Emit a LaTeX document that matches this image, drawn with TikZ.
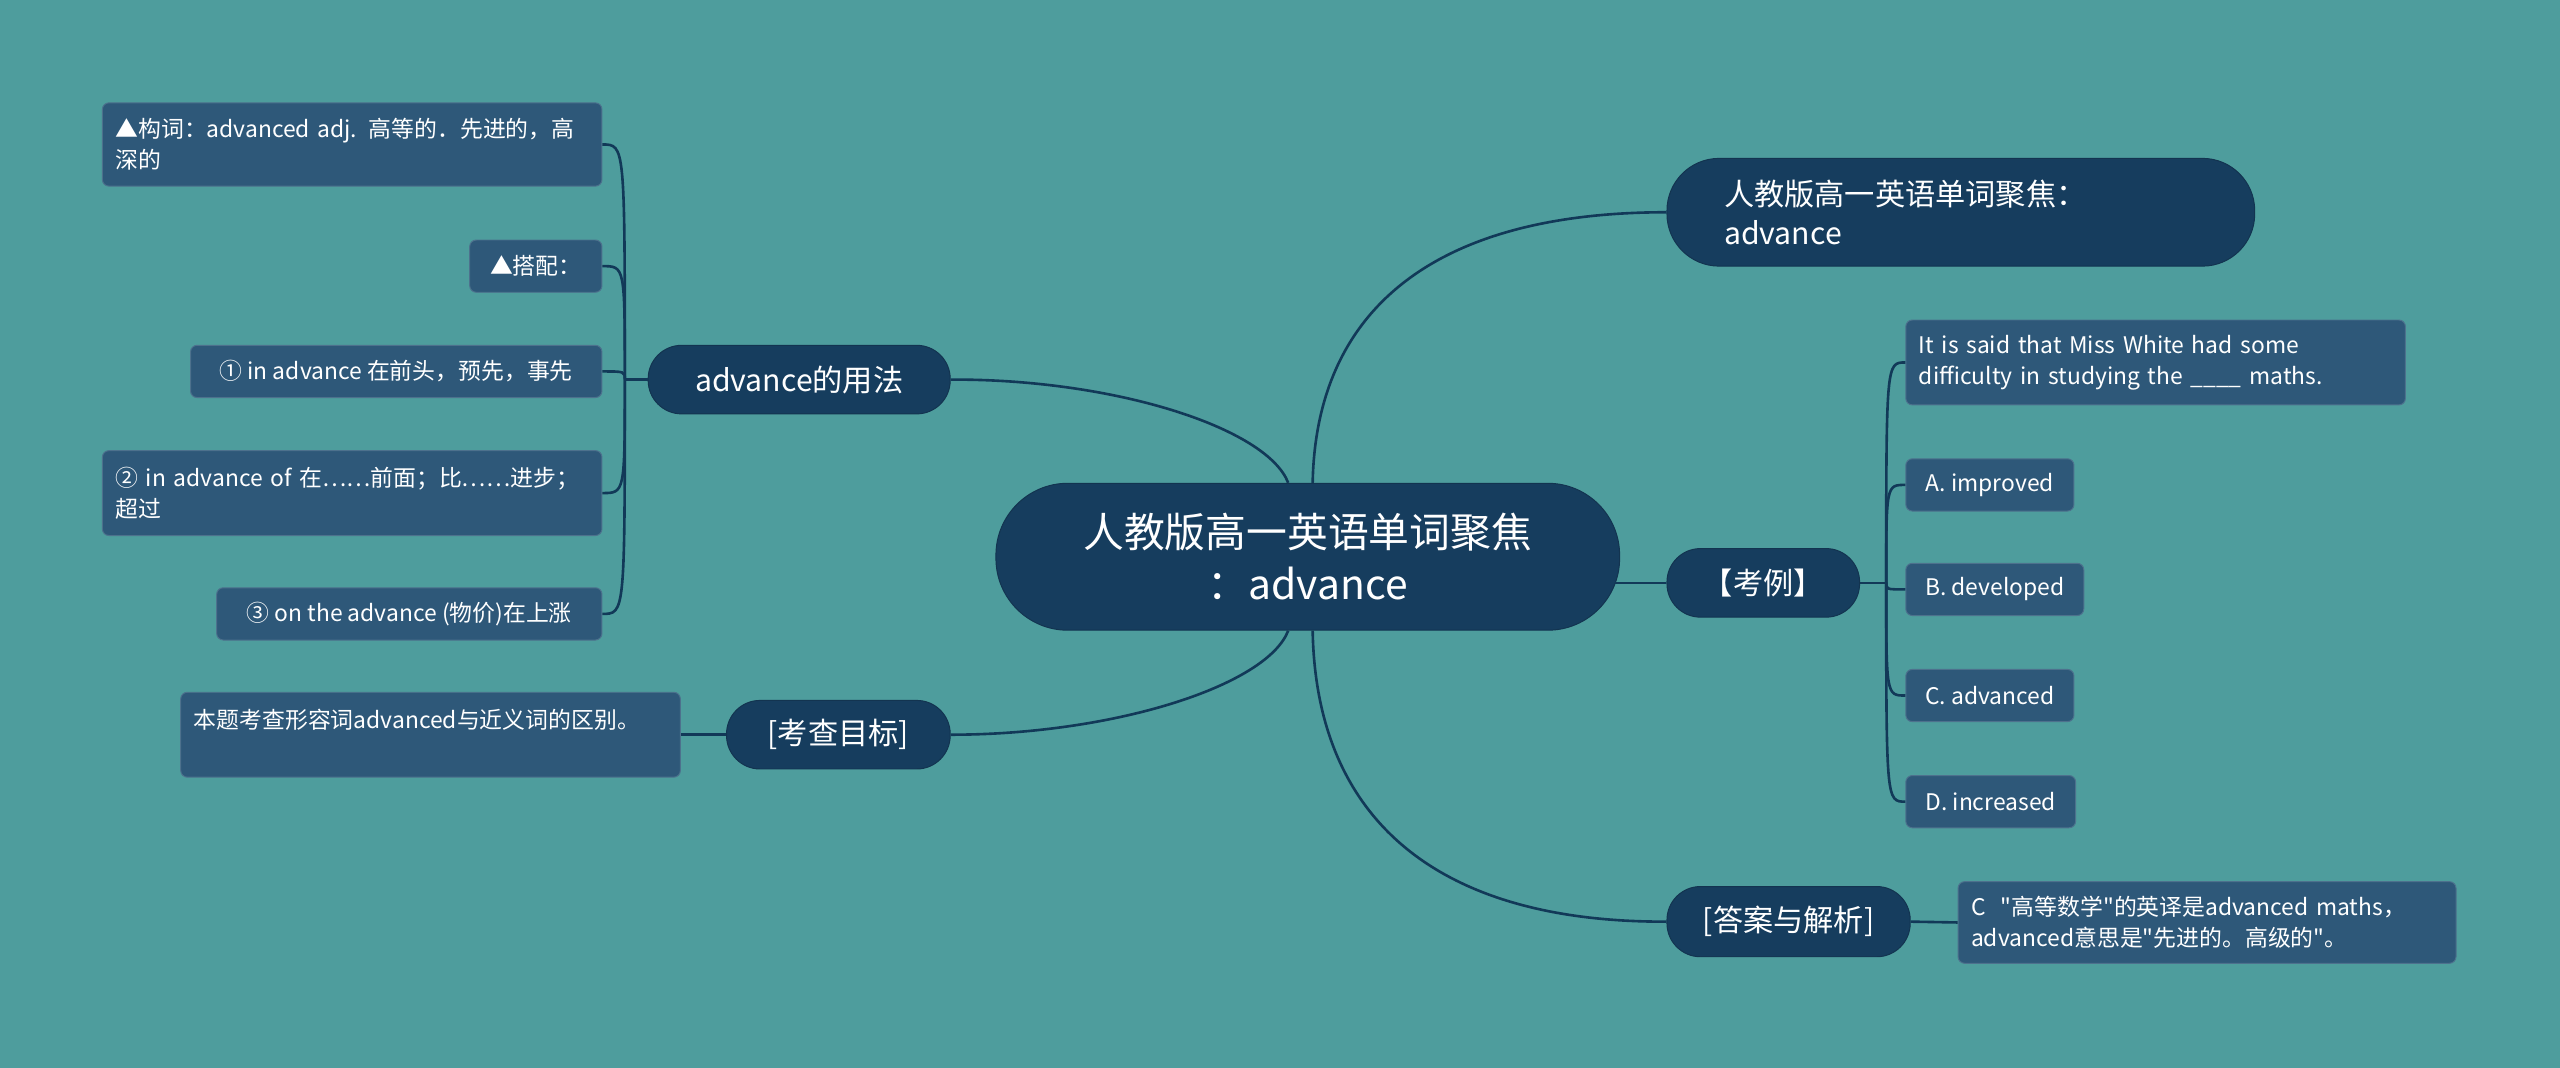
\documentclass[tikz,border=0pt]{standalone}
\usepackage{fontspec}
\setmainfont{Noto Sans CJK SC}[Ligatures=TeXOff]
\usetikzlibrary{positioning}

\definecolor{bgteal}{RGB}{78,157,157}
\definecolor{topicblue}{RGB}{22,61,94}
\definecolor{leafblue}{RGB}{46,88,121}
\definecolor{linkblue}{RGB}{18,57,88}

\tikzset{
  root/.style={fill=topicblue, draw=topicblue!85!black, line width=0.6pt, rounded corners=44pt, minimum width=382pt, minimum height=90pt, inner sep=0pt, text=white, align=center, font=\fontsize{25}{32}\selectfont},
  topic/.style={fill=topicblue, draw=topicblue!85!black, line width=0.6pt, rounded corners=20.5pt, minimum height=42pt, inner sep=0pt, text=white, font=\fontsize{18.5}{24}\selectfont},
  leaf/.style={fill=leafblue, draw=leafblue!85!white, line width=0.6pt, rounded corners=4pt, minimum height=32pt, inner xsep=8pt, inner ysep=0pt, text=white, align=left, font=\fontsize{14}{19}\selectfont},
  link/.style={draw=linkblue, line width=1.6pt},
}

\begin{document}
\begin{tikzpicture}[x=1pt,y=1pt,yscale=-1,xscale=1]
\useasboundingbox (0,0) rectangle (1568,654);
\fill [bgteal] (0,0) rectangle (1568,654);

% Root
\node [root] (root) at (801,341) {人教版高一英语单词聚焦\\：advance};

% Topics
\node [topic, minimum width=360pt, minimum height=66pt, rounded corners=32pt, inner xsep=35pt, text width=290pt, align=left] (title) at (1201,130) {人教版高一英语单词聚焦：\\advance};
\node [topic, minimum width=185pt] (usage) at (489.5,232.5) {advance的用法};
\node [topic, minimum width=137pt] (mubiao) at (513.5,450) {[考查目标]};
\node [topic, minimum width=118pt] (kaoli) at (1080,357) {【考例】};
\node [topic, minimum width=149pt, minimum height=43pt] (daan) at (1095.5,564.5) {[答案与解析]};

% Leaves of advance的用法
\node [leaf, anchor=east, text width=290pt, minimum height=51pt] (l1) at (369,88.5) {▲构词：advanced adj. 高等的．先进的，高\\深的};
\node [leaf, anchor=east, minimum width=81pt] (l2) at (369,163) {▲搭配：};
\node [leaf, anchor=east, minimum width=252pt] (l3) at (369,227.5) {① in advance 在前头，预先，事先};
\node [leaf, anchor=east, text width=290pt, minimum height=52pt] (l4) at (369,302) {② in advance of 在……前面；比……进步；\\超过};
\node [leaf, anchor=east, minimum width=236pt] (l5) at (369,376) {③ on the advance (物价)在上涨};

% Leaf of [考查目标]
\node [leaf, anchor=east, text width=290pt, minimum height=52pt] (l6) at (417,450) {本题考查形容词advanced与近义词的区别。\\\mbox{}};

% Leaves of 【考例】
\node [leaf, anchor=west, text width=290pt, minimum height=52pt] (r1) at (1167,222) {It is said that Miss White had some\\difficulty in studying the \_\_\_\_ maths.};
\node [leaf, anchor=west, minimum width=103pt] (r2) at (1167,297) {A. improved};
\node [leaf, anchor=west, minimum width=109pt] (r3) at (1167,361) {B. developed};
\node [leaf, anchor=west, minimum width=103pt] (r4) at (1167,426) {C. advanced};
\node [leaf, anchor=west, minimum width=104pt] (r5) at (1167,491) {D. increased};

% Leaf of [答案与解析]
\node [leaf, anchor=west, text width=289pt, minimum height=50pt] (r6) at (1199,565) {C\ \ "高等数学"的英译是advanced maths，\\advanced意思是"先进的。高级的"。};

%Curve Lines from the root
\draw [link] ([xshift=-12]root.north) .. controls (776,262) and (682,232) .. (usage.east);
\draw [link] ([xshift=3]root.north) .. controls (806,190) and (878,130) .. (title.west);
\draw [link] ([xshift=-3]root.east |- kaoli.west) -- (kaoli.west);
\draw [link] ([xshift=-12]root.south) .. controls (776,420) and (682,450) .. (mubiao.east);
\draw [link] ([xshift=3]root.south) .. controls (806,500) and (878,565) .. (daan.west);

%Brackets to the leaves
\coordinate (uj) at ([xshift=-14]usage.west);
\draw [link] (usage.west) -- (uj);
\foreach \l in {l1,l2,l3,l4,l5}
  \draw [link] (uj) .. controls (uj |- \l.east) .. (\l.east);
\coordinate (kj) at ([xshift=16]kaoli.east);
\draw [link] (kaoli.east) -- (kj);
\foreach \r in {r1,r2,r3,r4,r5}
  \draw [link] (kj) .. controls (kj |- \r.west) .. (\r.west);

%Straight Lines
\draw [link] (mubiao.west) -- (l6.east);
\draw [link] (daan.east) -- (r6.west);

\end{tikzpicture}
\end{document}
